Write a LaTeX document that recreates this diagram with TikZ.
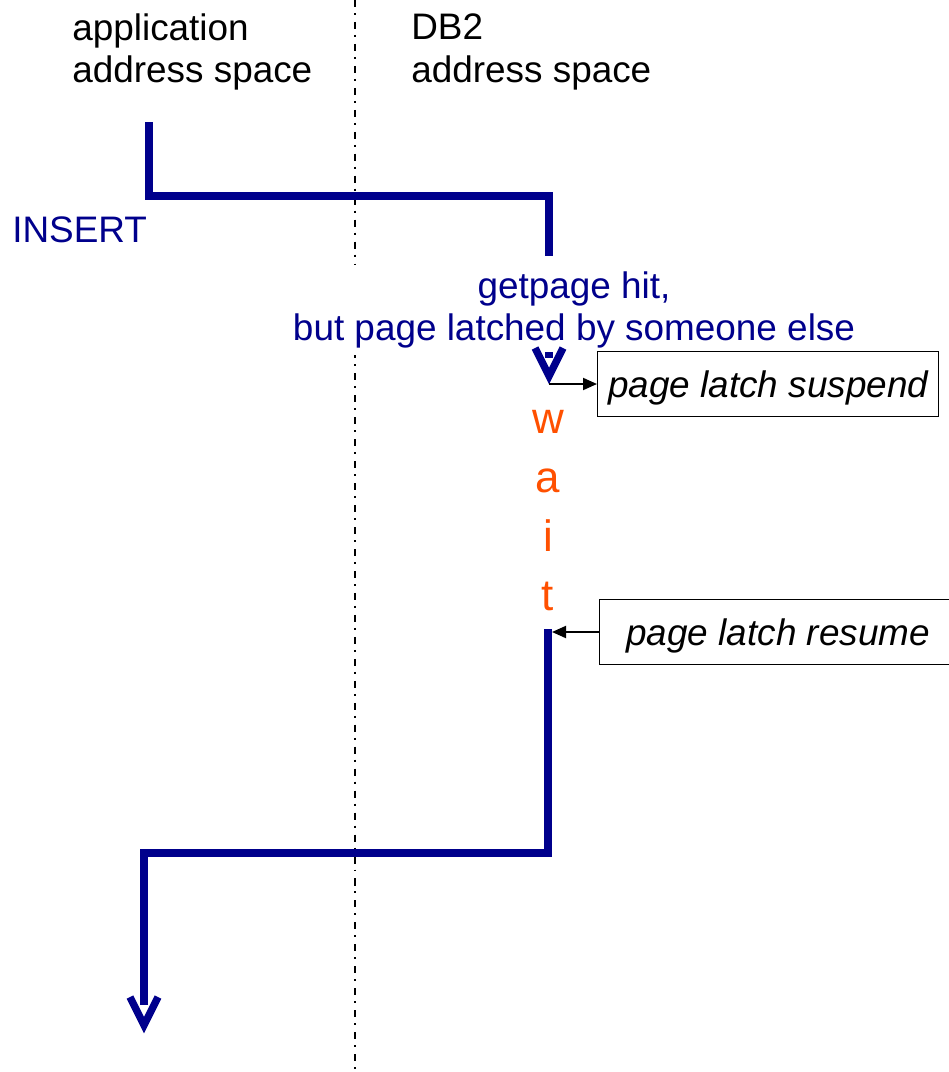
\documentclass[tikz,border=0pt]{standalone}
\usepackage{fontspec}
\setmainfont{Liberation Sans}
\usetikzlibrary{arrows.meta,positioning}
\definecolor{callblue}{RGB}{0,0,140}
\definecolor{waitred}{RGB}{255,80,0}
\tikzset{
spacetext/.style={align=left,inner sep=0pt,anchor=west,font=\fontsize{21}{24.2}\selectfont},
bluetext/.style={text=callblue,inner sep=0pt,font=\fontsize{21}{24.2}\selectfont},
waitletter/.style={text=waitred,inner sep=0pt,anchor=base,font=\fontsize{25}{28}\selectfont},
latchbox/.style={draw,line width=.8pt,fill=white,minimum height=1.3cm,text depth=0pt,inner sep=0pt,anchor=west,font=\fontsize{21}{24.2}\selectfont\itshape},
flow/.style={callblue,line width=4.2pt},
flowhead/.style={flow,miter limit=10},
thinarrow/.style={-{Triangle[length=.28cm,width=.24cm]},line width=1.1pt},
divider/.style={line width=1.1pt,dash pattern=on 4pt off 3.4pt on 1.1pt off 4pt}
}
\begin{document}
\begin{tikzpicture}[x=.02cm,y=-.02cm]
\useasboundingbox (0,0) rectangle (948,1072);
\coordinate (divtop) at (355,0);
\coordinate (divbottom) at (355,1072);
\draw[divider] (divtop)--(divbottom);
\node[spacetext] (app) at (72,52) {application\\address space};
\node[spacetext] (db2) at (411,52) {DB2\\address space};
\node[bluetext,anchor=base west] (insert) at (12,242) {INSERT};
\node[bluetext,align=center,fill=white,inner sep=4pt] (hit) at (574,310) {getpage hit,\\but page latched by someone else};
\coordinate (call) at (149,122);
\coordinate (callturn) at (549,196);
\coordinate (callend) at (549,256);
\draw[flow] (call)|-(callturn)--(callend);
\coordinate (stub) at (549,352);
\coordinate (stubend) at (549,358);
\coordinate (stubv) at (549,376);
\coordinate (stubtip) at (549,384);
\draw[flow] (stub)--(stubend);
\draw[flowhead] (stubv) +(-14,-28) -- (stubv) -- +(14,-28);
\node[latchbox,minimum width=6.82cm] (suspend) at (597,384) {page latch suspend};
\draw[thinarrow] (stubtip)--(suspend.west);
\foreach \ch [count=\k] in {w,a,i,t}
  \node[waitletter] (wait\k) at (548,374+59*\k) {\ch};
\node[latchbox,minimum width=7.14cm] (resume) at (599,632) {page latch resume};
\coordinate (resumein) at (552,632);
\draw[thinarrow] (resume.west)--(resumein);
\coordinate (back) at (548,629);
\coordinate (backturn) at (144,853);
\coordinate (backend) at (144,1005);
\coordinate (backv) at (144,1025);
\draw[flow] (back)|-(backturn)--(backend);
\draw[flowhead] (backv) +(-14,-28) -- (backv) -- +(14,-28);
\end{tikzpicture}
\end{document}
